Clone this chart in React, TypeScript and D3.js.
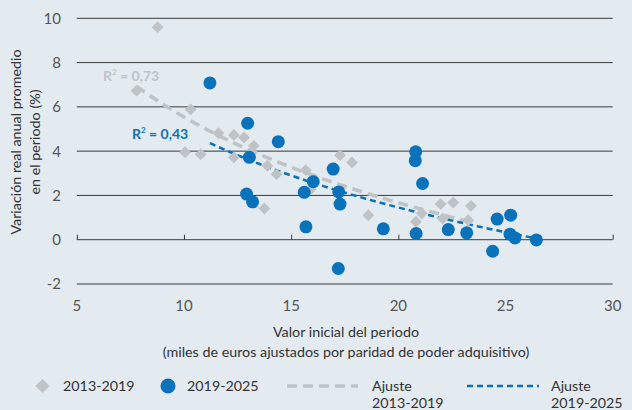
import React, { useEffect, useRef } from "react";
import * as d3 from "d3";

// 2013-2019 (grey diamonds)
const x1319 = [8.77, 7.79, 10.31, 10.05, 10.78, 11.61, 12.33, 12.8, 13.26, 12.33, 13.89, 14.32, 13.75, 15.68, 15.91, 17.28, 17.84, 18.6, 20.82, 21.09, 21.97, 22.56, 23.39, 22.07, 23.26];
const y1319 = [9.6, 6.73, 5.89, 3.95, 3.86, 4.81, 4.73, 4.62, 4.24, 3.72, 3.34, 2.96, 1.41, 3.14, 2.27, 3.82, 3.49, 1.11, 0.81, 1.19, 1.61, 1.68, 1.53, 0.96, 0.88];

// 2019-2025 (blue circles)
const x1925 = [11.21, 12.97, 13.05, 14.4, 12.92, 13.2, 16.96, 16.03, 15.61, 17.22, 17.28, 15.69, 19.3, 17.2, 20.81, 20.79, 21.13, 20.83, 22.33, 23.19, 24.61, 25.24, 25.21, 25.44, 26.44, 24.4];
const y1925 = [7.08, 5.26, 3.72, 4.43, 2.06, 1.71, 3.19, 2.62, 2.14, 2.16, 1.61, 0.58, 0.49, -1.3, 3.97, 3.57, 2.54, 0.28, 0.46, 0.31, 0.93, 1.11, 0.25, 0.08, -0.01, -0.52];

const xTicks = [5, 10, 15, 20, 25, 30];
const yTicks = [-2, 0, 2, 4, 6, 8, 10];

const GREY = "#bfc3c6";
const BLUE = "#0a72ba";
const FONT = "Lato, 'Open Sans', sans-serif";

// least squares fit y = a + b*ln(x)
function logFit(xs: number[], ys: number[]) {
    const lx = xs.map(Math.log);
    const mx = d3.mean(lx) as number;
    const my = d3.mean(ys) as number;
    const b = d3.sum(lx, (v, i) => (v - mx) * (ys[i] - my)) / d3.sum(lx, v => (v - mx) ** 2);
    const a = my - b * mx;
    const [lo, hi] = d3.extent(xs) as [number, number];
    return d3.range(0, 41).map(i => {
        const x = lo + (hi - lo) * i / 40;
        return [x, a + b * Math.log(x)] as [number, number];
    });
}

const Chart = () => {
    const svgRef = useRef<SVGSVGElement>(null);

    useEffect(() => {
        const svg = d3.select(svgRef.current);
        svg.selectAll("*").remove();

        const xScale = d3.scaleLinear().domain([5, 30]).range([76.8, 612.7]);
        const yScale = d3.scaleLinear().domain([-2, 10]).range([284, 18.3]);

        svg.append("rect").attr("width", 632).attr("height", 410).attr("fill", "#e3eaf0");

        // gridlines
        svg.append("g")
            .selectAll("line")
            .data(yTicks)
            .join("line")
            .attr("x1", xScale(5))
            .attr("x2", xScale(30))
            .attr("y1", d => yScale(d))
            .attr("y2", d => yScale(d))
            .attr("stroke", "#3a3a3a")
            .attr("stroke-width", 1);

        // y tick labels
        svg.append("g")
            .selectAll("text")
            .data(yTicks)
            .join("text")
            .attr("x", 61)
            .attr("y", d => yScale(d))
            .attr("dy", "0.36em")
            .attr("text-anchor", "end")
            .attr("font-family", FONT)
            .attr("font-size", 15)
            .attr("fill", "#555")
            .text(d => d);

        // x axis on zero line, ticks upward
        const xAxis = d3.axisTop(xScale).tickValues(xTicks).tickSize(5).tickFormat(() => "");
        const ax = svg.append("g").attr("transform", `translate(0,${yScale(0)})`).call(xAxis);
        ax.select(".domain").remove();
        ax.selectAll(".tick line").attr("stroke", "#3a3a3a");

        svg.append("g")
            .selectAll("text")
            .data(xTicks)
            .join("text")
            .attr("x", d => xScale(d))
            .attr("y", 311)
            .attr("text-anchor", "middle")
            .attr("font-family", FONT)
            .attr("font-size", 15)
            .attr("fill", "#555")
            .text(d => d);

        // axis titles
        const xt = svg.append("text")
            .attr("text-anchor", "middle")
            .attr("font-family", FONT)
            .attr("font-size", 14.3)
            .attr("fill", "#333");
        xt.append("tspan").attr("x", 346).attr("y", 337).text("Valor inicial del periodo");
        xt.append("tspan").attr("x", 346).attr("y", 357).text("(miles de euros ajustados por paridad de poder adquisitivo)");

        const yt = svg.append("text")
            .attr("transform", "translate(0,142) rotate(-90)")
            .attr("text-anchor", "middle")
            .attr("font-family", FONT)
            .attr("font-size", 14.3)
            .attr("fill", "#333");
        yt.append("tspan").attr("x", 0).attr("y", 21).text("Variación real anual promedio");
        yt.append("tspan").attr("x", 0).attr("y", 40).text("en el periodo (%)");

        const line = d3.line<[number, number]>()
            .x(d => xScale(d[0]))
            .y(d => yScale(d[1]))
            .curve(d3.curveMonotoneX);

        // fits
        svg.append("path")
            .datum(logFit(x1319, y1319))
            .attr("d", line)
            .attr("fill", "none")
            .attr("stroke", GREY)
            .attr("stroke-width", 3.5)
            .attr("stroke-dasharray", "10,6");

        svg.append("path")
            .datum(logFit(x1925, y1925))
            .attr("d", line)
            .attr("fill", "none")
            .attr("stroke", BLUE)
            .attr("stroke-width", 2.5)
            .attr("stroke-dasharray", "6,4");

        // points
        const diamond = d3.symbol().type(d3.symbolSquare).size(70);
        svg.append("g")
            .selectAll("path")
            .data(x1319.map((x, i) => [x, y1319[i]]))
            .join("path")
            .attr("d", diamond)
            .attr("transform", d => `translate(${xScale(d[0])},${yScale(d[1])}) rotate(45)`)
            .attr("fill", GREY);

        svg.append("g")
            .selectAll("circle")
            .data(x1925.map((x, i) => [x, y1925[i]]))
            .join("circle")
            .attr("cx", d => xScale(d[0]))
            .attr("cy", d => yScale(d[1]))
            .attr("r", 6.5)
            .attr("fill", BLUE);

        // R² labels
        const r1 = svg.append("text").attr("x", 103).attr("y", 81).attr("font-family", FONT)
            .attr("font-size", 14).attr("font-weight", "bold").attr("fill", GREY);
        r1.append("tspan").text("R");
        r1.append("tspan").attr("dy", -6).attr("font-size", 8).text("2");
        r1.append("tspan").attr("dy", 6).text(" = 0,73");

        const r2 = svg.append("text").attr("x", 132).attr("y", 139).attr("font-family", FONT)
            .attr("font-size", 14).attr("font-weight", "bold").attr("fill", BLUE);
        r2.append("tspan").text("R");
        r2.append("tspan").attr("dy", -6).attr("font-size", 8).text("2");
        r2.append("tspan").attr("dy", 6).text(" = 0,43");

        // legend
        const lg = svg.append("g").attr("font-family", FONT).attr("font-size", 14.3).attr("fill", "#333");
        lg.append("path").attr("d", d3.symbol().type(d3.symbolSquare).size(100))
            .attr("transform", "translate(42.5,386) rotate(45)").attr("fill", GREY);
        lg.append("text").attr("x", 63).attr("y", 391).text("2013-2019");
        lg.append("circle").attr("cx", 168).attr("cy", 386).attr("r", 7.5).attr("fill", BLUE);
        lg.append("text").attr("x", 187).attr("y", 391).text("2019-2025");
        lg.append("line").attr("x1", 287).attr("x2", 358).attr("y1", 386).attr("y2", 386)
            .attr("stroke", GREY).attr("stroke-width", 3.5).attr("stroke-dasharray", "10,6");
        const a1 = lg.append("text");
        a1.append("tspan").attr("x", 372).attr("y", 391).text("Ajuste");
        a1.append("tspan").attr("x", 372).attr("y", 408).text("2013-2019");
        lg.append("line").attr("x1", 467).attr("x2", 539).attr("y1", 386).attr("y2", 386)
            .attr("stroke", BLUE).attr("stroke-width", 2.5).attr("stroke-dasharray", "6,4");
        const a2 = lg.append("text");
        a2.append("tspan").attr("x", 551).attr("y", 391).text("Ajuste");
        a2.append("tspan").attr("x", 551).attr("y", 408).text("2019-2025");
    }, []);

    return <svg ref={svgRef} width={632} height={410} style={{ position: "absolute", left: 0, top: 0, display: "block" }} />;
};

export default function App() {
    return <Chart />;
}
